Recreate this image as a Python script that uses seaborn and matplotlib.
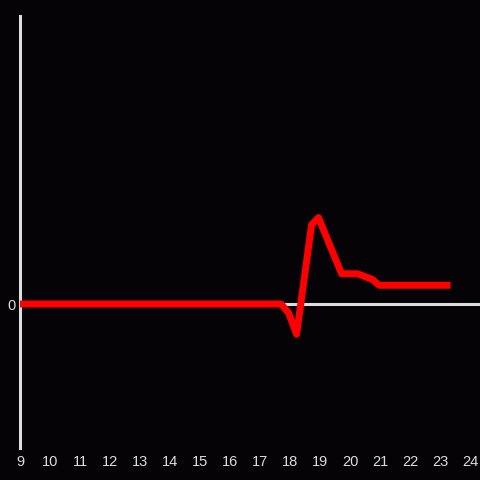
import matplotlib
matplotlib.use('Agg')
import matplotlib.pyplot as plt
import pandas as pd
import seaborn as sns

# hour of day vs. signal value
hours = [9, 17.7, 17.95, 18.22, 18.72, 18.95, 19.72, 20.25, 20.75, 20.97, 23.35]
values = [0, 0, -0.06, -0.21, 0.55, 0.6, 0.21, 0.21, 0.17, 0.13, 0.13]
xticks = list(range(9, 25))

bg = '#050306'
fg = '#dddddd'

sns.set_style('dark')
plt.rcParams['font.family'] = ['Liberation Sans', 'DejaVu Sans']

df = pd.DataFrame({'hour': hours, 'value': values})

fig = plt.figure(figsize=(4.8, 4.8), dpi=100, facecolor=bg)
ax = fig.add_axes([20/480, 32/480, 460/480, 432/480])
ax.set_facecolor(bg)

ax.axhline(0, color=fg, lw=2.2, zorder=1)
sns.lineplot(data=df, x='hour', y='value', ax=ax, color='#ff0000', lw=5,
             solid_capstyle='butt', zorder=3)

ax.set_xlim(9, 9 + 460/30)
ax.set_ylim(-1, 2)
ax.set_xticks(xticks)
ax.set_xticklabels([str(t) for t in xticks])
ax.set_yticks([0])
ax.set_yticklabels(['0'])
ax.tick_params(axis='x', length=0, pad=5, colors=fg, labelsize=10.5)
ax.tick_params(axis='y', length=0, pad=3, colors=fg, labelsize=10.5)
ax.set_xlabel('')
ax.set_ylabel('')
ax.grid(False)

for side in ['top', 'right', 'bottom']:
    ax.spines[side].set_visible(False)
ax.spines['left'].set_color(fg)
ax.spines['left'].set_linewidth(2.2)

fig.savefig('out.png', dpi=100, facecolor=bg)
